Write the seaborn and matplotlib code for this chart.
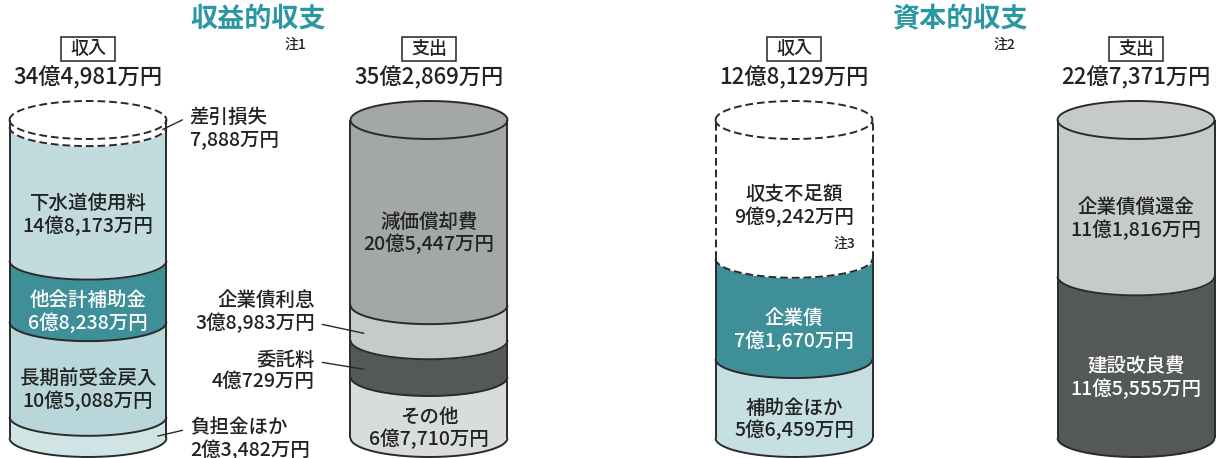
import numpy as np
import matplotlib
matplotlib.use("Agg")
import matplotlib.pyplot as plt
from matplotlib.patches import Rectangle
import seaborn as sns

# ---------------- data (units: 万円) ----------------
rev_in_items = ["負担金ほか", "長期前受金戻入", "他会計補助金", "下水道使用料", "差引損失"]
rev_in_values = [23482, 105088, 68238, 148173, 7888]
rev_out_items = ["その他", "委託料", "企業債利息", "減価償却費"]
rev_out_values = [67710, 40729, 38983, 205447]
cap_in_items = ["補助金ほか", "企業債", "収支不足額"]
cap_in_values = [56459, 71670, 99242]
cap_out_items = ["建設改良費", "企業債償還金"]
cap_out_values = [115555, 111816]
panel_titles = ["収益的収支", "資本的収支"]
panel_notes = ["注1", "注2"]
side_names = ["収入", "支出"]

# ---------------- style ----------------
W, H, DPI = 1223, 458, 100
BODY_TOP, BODY_BOT = 120, 438
BODY = BODY_BOT - BODY_TOP
RX, RY = 78.5, 19.0
PT = 72.0 / DPI
LINE = "#2a2a2a"
TXT = "#222222"
TEAL_T = "#2a97a3"
LW = 1.4
FS = 14
FW = "medium"

rev_in_colors = ["#d0e4e6", "#b9d6da", "#3e8f98", "#c2dbde", "#ffffff"]
rev_out_colors = ["#d9dcdc", "#545857", "#c6caca", "#a3a8a7"]
cap_in_colors = ["#c6dfe2", "#3e8f98", "#ffffff"]
cap_out_colors = ["#545857", "#c6caca"]

sns.set_theme(style="white")
plt.rcParams["font.family"] = ["Noto Sans CJK JP", "DejaVu Sans"]


def fmt(v):
    oku, man = divmod(int(v), 10000)
    return f"{oku}億{man:,}万円" if oku else f"{man:,}万円"


def draw_cylinder(ax, xc, values, colors, a, b, gap_last):
    xs = np.linspace(-a, a, 401)
    arc = b * np.sqrt(np.clip(1 - (xs / a) ** 2, 0, None))
    cum = np.concatenate([[0], np.cumsum(values)])
    T = cum[-1]
    for i in range(len(values)):
        ax.fill_between(xc + xs, cum[i] - arc, cum[i + 1] - arc,
                        color=colors[i], lw=0, zorder=1)
    ax.fill_between(xc + xs, T - arc, T + arc, color=colors[-1], lw=0, zorder=1)
    solid = dict(color=LINE, lw=LW, zorder=3, solid_capstyle="butt")
    dashed = dict(color=LINE, lw=LW, ls=(0, (4, 2)), zorder=3)
    ax.plot(xc + xs, -arc, **solid)
    for i in range(1, len(values)):
        st = dashed if (gap_last and i == len(values) - 1) else solid
        ax.plot(xc + xs, cum[i] - arc, **st)
    split = cum[-2] if gap_last else T
    for s in (-a, a):
        ax.plot([xc + s, xc + s], [0, split], **solid)
        if gap_last:
            ax.plot([xc + s, xc + s], [split, T], **dashed)
    top = dashed if gap_last else solid
    ax.plot(xc + xs, T + arc, **top)
    ax.plot(xc + xs, T - arc, **top)
    return cum


def inside_label(ax, xc, cum, i, items, values, color, dy_px=0.0):
    # dy_px: image-down pixels
    mid = (cum[i] + cum[i + 1]) / 2
    ax.annotate(f"{items[i]}\n{fmt(values[i])}", xy=(xc, mid),
                xytext=(0, -(RY + 2 + dy_px) * PT), textcoords="offset points",
                ha="center", va="center", fontsize=FS, fontweight=FW,
                color=color, linespacing=1.15, zorder=5)


def outside_label(ax, xc, a, cum, i, items, values, edge_frac, dx_px, dy_px,
                  ha, relpos, b):
    # dx_px right, dy_px image-down
    mid = (cum[i] + cum[i + 1]) / 2
    ex = edge_frac * a
    arc = b * np.sqrt(1 - edge_frac ** 2)
    ax.annotate(f"{items[i]}\n{fmt(values[i])}", xy=(xc + ex, mid - arc),
                xytext=(dx_px * PT, -dy_px * PT), textcoords="offset points",
                ha=ha, va="center", fontsize=FS, fontweight=FW, color=TXT,
                linespacing=1.15, zorder=5,
                arrowprops=dict(arrowstyle="-", color=LINE, lw=1.0,
                                relpos=relpos, shrinkA=3, shrinkB=0))


fig = plt.figure(figsize=(W / DPI, H / DPI), dpi=DPI)
fig.patch.set_facecolor("white")

panels = [
    dict(centers=(88, 429), title_x=258, note_x=295,
         ins=(rev_in_items, rev_in_values, rev_in_colors),
         outs=(rev_out_items, rev_out_values, rev_out_colors)),
    dict(centers=(794, 1136), title_x=960, note_x=1004,
         ins=(cap_in_items, cap_in_values, cap_in_colors),
         outs=(cap_out_items, cap_out_values, cap_out_colors)),
]

for p, pan in enumerate(panels):
    c0, c1 = pan["centers"]
    sx = c1 - c0
    in_items, in_vals, in_cols = pan["ins"]
    out_items, out_vals, out_cols = pan["outs"]
    T = float(sum(out_vals))
    ax = fig.add_axes([0, 0, 1, 1])
    ax.set_axis_off()
    ax.patch.set_alpha(0)
    ax.set_xlim(-c0 / sx, (W - c0) / sx)
    ax.set_ylim((BODY_BOT - H) / BODY * T, BODY_BOT / BODY * T)
    a = RX / sx
    b = RY / BODY * T

    cum_in = draw_cylinder(ax, 0, in_vals, in_cols, a, b, gap_last=True)
    cum_out = draw_cylinder(ax, 1, out_vals, out_cols, a, b, gap_last=False)

    # headings
    fig.text(pan["title_x"] / W, 1 - 19 / H, panel_titles[p], ha="center",
             va="center", fontsize=19.5, fontweight="bold", color=TEAL_T)
    fig.text(pan["note_x"] / W, 1 - 45 / H, panel_notes[p], ha="center",
             va="center", fontsize=10, fontweight=FW, color=TXT)
    totals = [sum(in_vals[:-1]), sum(out_vals)]
    for k, cx in enumerate((c0, c1)):
        fig.add_artist(Rectangle(((cx - 27) / W, 1 - 61 / H), 54 / W, 24 / H,
                                 transform=fig.transFigure, fc="white",
                                 ec="#222222", lw=1.1))
        fig.text(cx / W, 1 - 49 / H, side_names[k], ha="center", va="center",
                 fontsize=13, fontweight=FW, color=TXT)
        fig.text(cx / W, 1 - 78 / H, fmt(totals[k]), ha="center", va="center",
                 fontsize=16, fontweight=FW, color=TXT)

    if p == 0:
        # income
        inside_label(ax, 0, cum_in, 3, in_items, in_vals, TXT)
        inside_label(ax, 0, cum_in, 2, in_items, in_vals, "white")
        inside_label(ax, 0, cum_in, 1, in_items, in_vals, TXT)
        outside_label(ax, 0, a, cum_in, 0, in_items, in_vals, 0.89, 32, 3,
                      "left", (0, 0.75), b)
        outside_label(ax, 0, a, cum_in, 4, in_items, in_vals, 0.95, 27, -1,
                      "left", (0, 0.8), b)
        # expense
        inside_label(ax, 1, cum_out, 3, out_items, out_vals, TXT)
        inside_label(ax, 1, cum_out, 0, out_items, out_vals, TXT)
        outside_label(ax, 1, a, cum_out, 2, out_items, out_vals, -0.83, -49, -21,
                      "right", (1, 0.25), b)
        outside_label(ax, 1, a, cum_out, 1, out_items, out_vals, -0.83, -49, 2,
                      "right", (1, 0.75), b)
    else:
        inside_label(ax, 0, cum_in, 2, in_items, in_vals, TXT, dy_px=-4)
        mid = (cum_in[2] + cum_in[3]) / 2
        ax.annotate("注3", xy=(0, mid), xytext=(61 * PT, -(RY + 2 + 33) * PT),
                    textcoords="offset points", ha="right", va="center",
                    fontsize=10, fontweight=FW, color=TXT)
        inside_label(ax, 0, cum_in, 1, in_items, in_vals, "white")
        inside_label(ax, 0, cum_in, 0, in_items, in_vals, TXT)
        inside_label(ax, 1, cum_out, 1, out_items, out_vals, TXT)
        inside_label(ax, 1, cum_out, 0, out_items, out_vals, "white")

fig.savefig("out.png", dpi=DPI, facecolor="white")
